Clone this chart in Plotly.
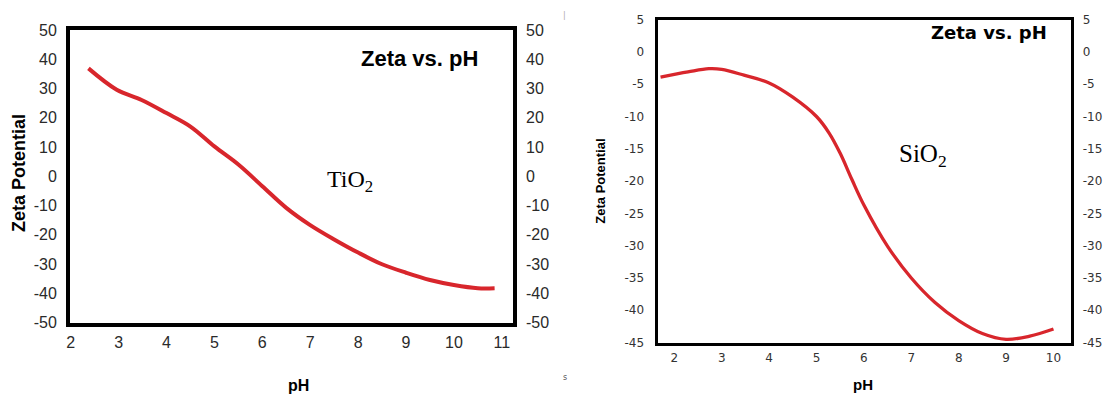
import plotly.graph_objects as go

# ---- data ----
ph_tio2 = [2.37, 2.96, 3.48, 4.0, 4.5, 5.0, 5.5, 6.0, 6.5, 7.0, 7.5, 8.0, 8.5, 9.0, 9.5, 10.0, 10.5, 10.85]
zeta_tio2 = [36.9, 29.6, 26.1, 21.6, 17.0, 10.2, 4.0, -3.4, -10.8, -16.7, -21.6, -26.1, -30.1, -33.0, -35.5, -37.2, -38.3, -38.3]

ph_sio2 = [1.71, 2.29, 2.73, 3.0, 3.47, 4.0, 4.5, 5.0, 5.27, 5.5, 5.75, 6.0, 6.5, 7.0, 7.5, 8.0, 8.5, 9.0, 9.5, 10.0]
zeta_sio2 = [-3.9, -3.1, -2.6, -2.7, -3.6, -4.8, -7.0, -10.0, -12.6, -15.7, -19.8, -23.7, -30.1, -35.0, -38.8, -41.6, -43.6, -44.5, -44.0, -42.9]

x_ticks_left = [2, 3, 4, 5, 6, 7, 8, 9, 10, 11]
y_ticks_left = [50, 40, 30, 20, 10, 0, -10, -20, -30, -40, -50]
x_ticks_right = [2, 3, 4, 5, 6, 7, 8, 9, 10]
y_ticks_right = [5, 0, -5, -10, -15, -20, -25, -30, -35, -40, -45]

W, H = 1104, 394
RED = "#d8262c"


def px(x):
    return x / W


def py(y):
    return 1 - y / H


def labels(vals):
    return [str(v) for v in vals]  # plain hyphen-minus like the reference


fig = go.Figure()
fig.add_trace(go.Scatter(x=ph_tio2, y=zeta_tio2, mode="lines", xaxis="x", yaxis="y",
                         line=dict(color=RED, width=4, shape="spline", smoothing=1.0),
                         showlegend=False, hoverinfo="skip"))
fig.add_trace(go.Scatter(x=ph_sio2, y=zeta_sio2, mode="lines", xaxis="x2", yaxis="y3",
                         line=dict(color=RED, width=3.3, shape="spline", smoothing=1.0),
                         showlegend=False, hoverinfo="skip"))
# invisible traces so the right-hand label axes render
fig.add_trace(go.Scatter(x=[ph_tio2[0]], y=[zeta_tio2[0]], mode="markers", marker=dict(opacity=0),
                         xaxis="x", yaxis="y2", showlegend=False, hoverinfo="skip"))
fig.add_trace(go.Scatter(x=[ph_sio2[0]], y=[zeta_sio2[0]], mode="markers", marker=dict(opacity=0),
                         xaxis="x2", yaxis="y4", showlegend=False, hoverinfo="skip"))

L_tick = dict(family="Liberation Sans, Arial, sans-serif", size=16, color="#2a2a2a")
R_tick = dict(family="DejaVu Sans, Verdana, sans-serif", size=12, color="#333333")

left_x = [70, 513]
left_y = [30, 322.5]
right_x = [657.7, 1070.7]
right_y = [19.5, 342.7]

yr_left = [-50.02, 50.02]
yr_right = [-45.02, 5.02]

fig.update_layout(
    width=W, height=H, margin=dict(l=0, r=0, t=0, b=0, autoexpand=False),
    paper_bgcolor="white", plot_bgcolor="white",
    xaxis=dict(domain=[px(left_x[0]), px(left_x[1])], range=[1.985, 11.234], anchor="y",
               tickvals=x_ticks_left, ticktext=labels(x_ticks_left), showgrid=False, zeroline=False,
               showline=True, linewidth=4, linecolor="black", mirror=True,
               ticks="", tickfont=L_tick, ticklabelstandoff=2),
    yaxis=dict(domain=[py(left_y[1]), py(left_y[0])], range=yr_left, anchor="x",
               tickvals=y_ticks_left, ticktext=labels(y_ticks_left), showgrid=False, zeroline=False,
               showline=True, linewidth=4, linecolor="black", mirror=True,
               ticks="", tickfont=L_tick, ticklabelstandoff=6),
    yaxis2=dict(domain=[py(left_y[1]), py(left_y[0])], range=yr_left, anchor="x", overlaying="y",
                side="right", tickvals=y_ticks_left, ticktext=labels(y_ticks_left),
                showgrid=False, zeroline=False,
                showline=False, ticks="", tickfont=L_tick, ticklabelstandoff=12),
    xaxis2=dict(domain=[px(right_x[0]), px(right_x[1])], range=[1.65, 10.363], anchor="y3",
                tickvals=x_ticks_right, ticktext=labels(x_ticks_right), showgrid=False, zeroline=False,
                showline=True, linewidth=3.4, linecolor="black", mirror=True,
                ticks="", tickfont=R_tick, ticklabelstandoff=2),
    yaxis3=dict(domain=[py(right_y[1]), py(right_y[0])], range=yr_right, anchor="x2",
                tickvals=y_ticks_right, ticktext=labels(y_ticks_right), showgrid=False, zeroline=False,
                showline=True, linewidth=3.4, linecolor="black", mirror=True,
                ticks="", tickfont=R_tick, ticklabelstandoff=8),
    yaxis4=dict(domain=[py(right_y[1]), py(right_y[0])], range=yr_right, anchor="x2", overlaying="y3",
                side="right", tickvals=y_ticks_right, ticktext=labels(y_ticks_right),
                showgrid=False, zeroline=False,
                showline=False, ticks="", tickfont=R_tick, ticklabelstandoff=11),
)

C = dict(xanchor="center", yanchor="middle", showarrow=False)
ann = []
ann.append(dict(text="<b>Zeta vs. pH</b>", x=9.29, y=40.2, xref="x", yref="y",
                font=dict(family="Liberation Sans, Arial, sans-serif", size=22, color="black"), **C))
ann.append(dict(text="TiO<sub>2</sub>", x=7.83, y=-1.5, xref="x", yref="y",
                font=dict(family="Liberation Serif, Times New Roman, serif", size=24, color="black"), **C))
ann.append(dict(text="<b>Zeta vs. pH</b>", x=8.63, y=2.94, xref="x2", yref="y3",
                font=dict(family="DejaVu Sans, Verdana, sans-serif", size=18, color="black"), **C))
ann.append(dict(text="SiO<sub>2</sub>", x=7.25, y=-16.1, xref="x2", yref="y3",
                font=dict(family="Liberation Serif, Times New Roman, serif", size=25, color="black"), **C))
# axis titles
ann.append(dict(text="<b>Zeta Potential</b>", x=px(18.5), y=py(173.5), xref="paper", yref="paper",
                textangle=-90,
                font=dict(family="Liberation Sans, Arial, sans-serif", size=18, color="black"), **C))
ann.append(dict(text="<b>pH</b>", x=px(298.5), y=py(385), xref="paper", yref="paper",
                font=dict(family="Liberation Sans, Arial, sans-serif", size=16, color="black"), **C))
ann.append(dict(text="<b>Zeta Potential</b>", x=px(601), y=py(181.7), xref="paper", yref="paper",
                textangle=-90,
                font=dict(family="Liberation Sans, Arial, sans-serif", size=13, color="black"), **C))
ann.append(dict(text="<b>pH</b>", x=px(863), y=py(384), xref="paper", yref="paper",
                font=dict(family="Liberation Sans, Arial, sans-serif", size=15, color="black"), **C))
# stray marks in the scanned figure
ann.append(dict(text="s", x=px(565), y=py(377), xref="paper", yref="paper",
                font=dict(family="DejaVu Sans, sans-serif", size=8, color="#555555"), **C))
ann.append(dict(text="|", x=px(564), y=py(15), xref="paper", yref="paper",
                font=dict(family="DejaVu Sans, sans-serif", size=8, color="#aaaaaa"), **C))
fig.update_layout(annotations=ann)

fig.write_html("out.html", config={"displayModeBar": False},
               post_script="document.body.style.margin='0px';document.body.style.padding='0px';")
